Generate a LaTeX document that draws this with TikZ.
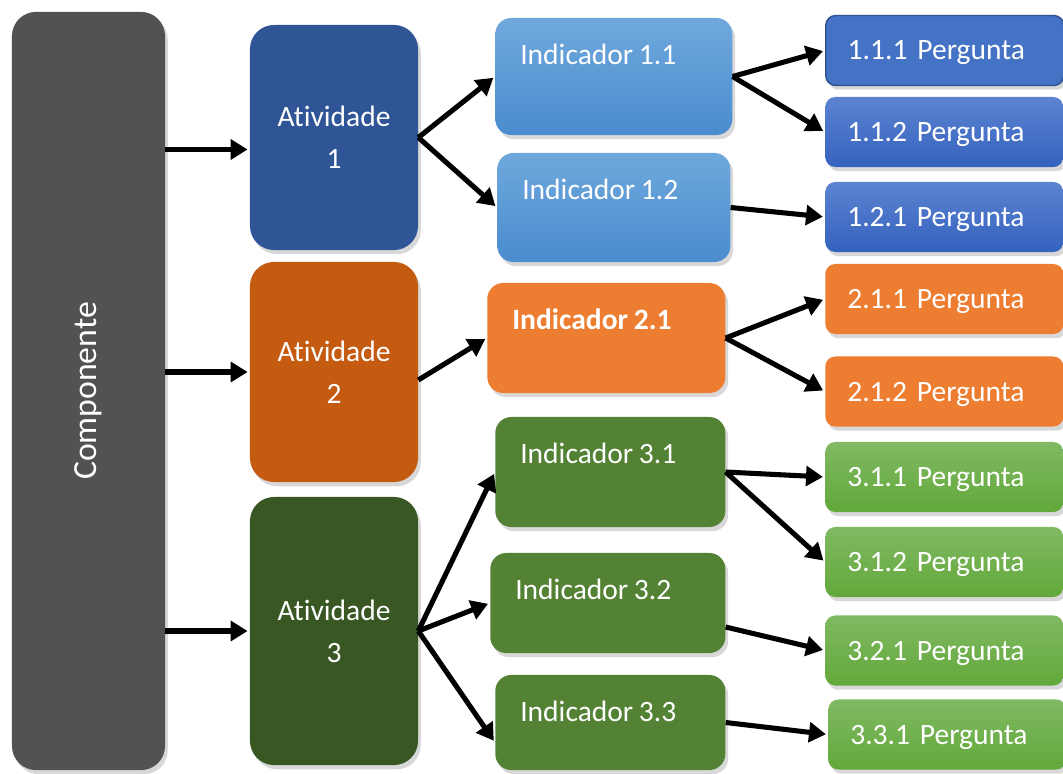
\documentclass[tikz,border=0pt]{standalone}
\usepackage{fontspec}
\setmainfont{Carlito}[Ligatures=NoCommon, WordSpace=0.85]
\usepackage{graphicx}
\usetikzlibrary{positioning,arrows.meta,shadows}

\definecolor{compgray}{HTML}{525252}
\definecolor{ativblue}{HTML}{2F5597}
\definecolor{ativorange}{HTML}{C55A11}
\definecolor{ativgreen}{HTML}{385723}
\definecolor{indbluetop}{HTML}{6FA8DC}
\definecolor{indbluebot}{HTML}{4A8CCF}
\definecolor{indorange}{HTML}{ED7D31}
\definecolor{indgreen}{HTML}{548235}
\definecolor{pergblue}{HTML}{4472C4}
\definecolor{pergblueline}{HTML}{2F528F}
\definecolor{pergbluetop}{HTML}{5C83D1}
\definecolor{pergbluebot}{HTML}{3462BE}
\definecolor{pergorange}{HTML}{ED7D31}
\definecolor{pergreentop}{HTML}{80B963}
\definecolor{pergreenbot}{HTML}{62A83A}

\begin{document}
\begin{tikzpicture}[
		x=0.025cm, y=-0.025cm,
		>={Triangle[length=12pt,width=14pt]},
		flow/.style={->, line width=3.6pt, draw=black, shorten >=1.5pt},
		box_shadow/.style={drop shadow={shadow xshift=2pt, shadow yshift=-3pt, fill=black!30}},
		componente_bar/.style={
			rectangle, rounded corners=0.6cm, fill=compgray, box_shadow,
			minimum width=3.825cm, minimum height=18.95cm, text=white,
			font=\fontsize{24}{28}\selectfont
		},
		atividade_box/.style={
			rectangle, rounded corners=0.6cm, box_shadow,
			minimum width=4.2cm, text=white, align=center,
			font=\fontsize{21}{30}\selectfont
		},
		indicador_box/.style={
			rectangle, rounded corners=0.4cm, box_shadow, anchor=west
		},
		indicador_text/.style={
			anchor=west, inner sep=0pt, xshift=0.625cm, yshift=-0.925cm,
			text=white, font=\fontsize{21}{26}\selectfont
		},
		ind_blue/.style={top color=indbluetop, bottom color=indbluebot},
		pergunta_box/.style={
			rectangle, rounded corners=0.25cm, box_shadow, anchor=west,
			minimum height=1.75cm, text width=4.85cm, inner xsep=0.55cm,
			text depth=0pt, align=left, text=white, font=\fontsize{21}{26}\selectfont
		},
		perg_blue/.style={top color=pergbluetop, bottom color=pergbluebot},
		perg_green/.style={top color=pergreentop, bottom color=pergreenbot}
		]
		
		\useasboundingbox (0,0) rectangle (1063,774);
		
		% --- COMPONENTE (left bar) ---
		\node[componente_bar] (comp) at (88.5,391) {\rotatebox{90}{Componente}};
		
		% --- ATIVIDADES ---
		\node[atividade_box, fill=ativblue, minimum height=5.625cm] (a1) at (334,137.5) {Atividade\\1};
		\node[atividade_box, fill=ativorange, minimum height=5.5cm] (a2) at (334,372) {Atividade\\2};
		\node[atividade_box, fill=ativgreen, minimum height=6.7cm] (a3) at (334,631) {Atividade\\3};
		
		% --- INDICADORES ---
		\node[indicador_box, ind_blue, minimum width=5.925cm, minimum height=2.925cm,
			label={[indicador_text]north west:Indicador 1.1}] (i11) at (495,76.5) {};
		\node[indicador_box, ind_blue, minimum width=5.825cm, minimum height=2.725cm,
			label={[indicador_text]north west:Indicador 1.2}] (i12) at (497,207.5) {};
		\node[indicador_box, fill=indorange, minimum width=5.95cm, minimum height=2.75cm,
			label={[indicador_text]north west:\textbf{Indicador 2.1}}] (i21) at (487,338) {};
		\node[indicador_box, fill=indgreen, minimum width=5.75cm, minimum height=2.75cm,
			label={[indicador_text]north west:Indicador 3.1}] (i31) at (495,472) {};
		\node[indicador_box, fill=indgreen, minimum width=5.875cm, minimum height=2.5cm,
			label={[indicador_text]north west:Indicador 3.2}] (i32) at (490,603) {};
		\node[indicador_box, fill=indgreen, minimum width=5.75cm, minimum height=2.375cm,
			label={[indicador_text]north west:Indicador 3.3}] (i33) at (495,722.5) {};
		
		% --- PERGUNTAS ---
		\node[pergunta_box, fill=pergblue, draw=pergblueline, line width=1pt] (p111) at (825,50.5) {1.1.1 Pergunta};
		\node[pergunta_box, perg_blue] (p112) at (825,132) {1.1.2 Pergunta};
		\node[pergunta_box, perg_blue] (p121) at (825,217) {1.2.1 Pergunta};
		\node[pergunta_box, fill=pergorange] (p211) at (825,299) {2.1.1 Pergunta};
		\node[pergunta_box, fill=pergorange] (p212) at (825,391.5) {2.1.2 Pergunta};
		\node[pergunta_box, perg_green] (p311) at (825,477) {3.1.1 Pergunta};
		\node[pergunta_box, perg_green] (p312) at (825,562) {3.1.2 Pergunta};
		\node[pergunta_box, perg_green] (p321) at (825,650.5) {3.2.1 Pergunta};
		\node[pergunta_box, perg_green] (p331) at (828,734.5) {3.3.1 Pergunta};
		
		% --- CONNECTIONS ---
		% 1. Componente to Atividades
		\coordinate (a1_in) at ([yshift=-0.3cm]a1.west);
		\draw[flow] (a1_in -| comp.east) -- (a1_in);
		\draw[flow] (a2.west -| comp.east) -- (a2.west);
		\draw[flow] (a3.west -| comp.east) -- (a3.west);
		
		% 2. Atividades to Indicadores
		\draw[flow] (a1.east) -- (i11.west);
		\draw[flow] (a1.east) -- (i12.west);
		\coordinate (a2_out) at ([yshift=-0.2cm]a2.east);
		\draw[flow] (a2_out) -- (i21.west);
		\draw[flow] (a3.east) -- (i31.west);
		\draw[flow] (a3.east) -- (i32.west);
		\coordinate (i33_in) at ([yshift=-0.5cm]i33.west);
		\draw[flow] (a3.east) -- (i33_in);
		
		% 3. Indicadores to Perguntas
		\draw[flow] (i11.east) -- (p111.west);
		\draw[flow] (i11.east) -- (p112.west);
		\draw[flow] (i12.east) -- (p121.west);
		\draw[flow] (i21.east) -- (p211.west);
		\draw[flow] (i21.east) -- (p212.west);
		\draw[flow] (i31.east) -- (p311.west);
		\draw[flow] (i31.east) -- (p312.west);
		\coordinate (i32_out) at ([yshift=-0.6cm]i32.east);
		\draw[flow] (i32_out) -- (p321.west);
		\draw[flow] (i33.east) -- (p331.west);
		
	\end{tikzpicture}
\end{document}
